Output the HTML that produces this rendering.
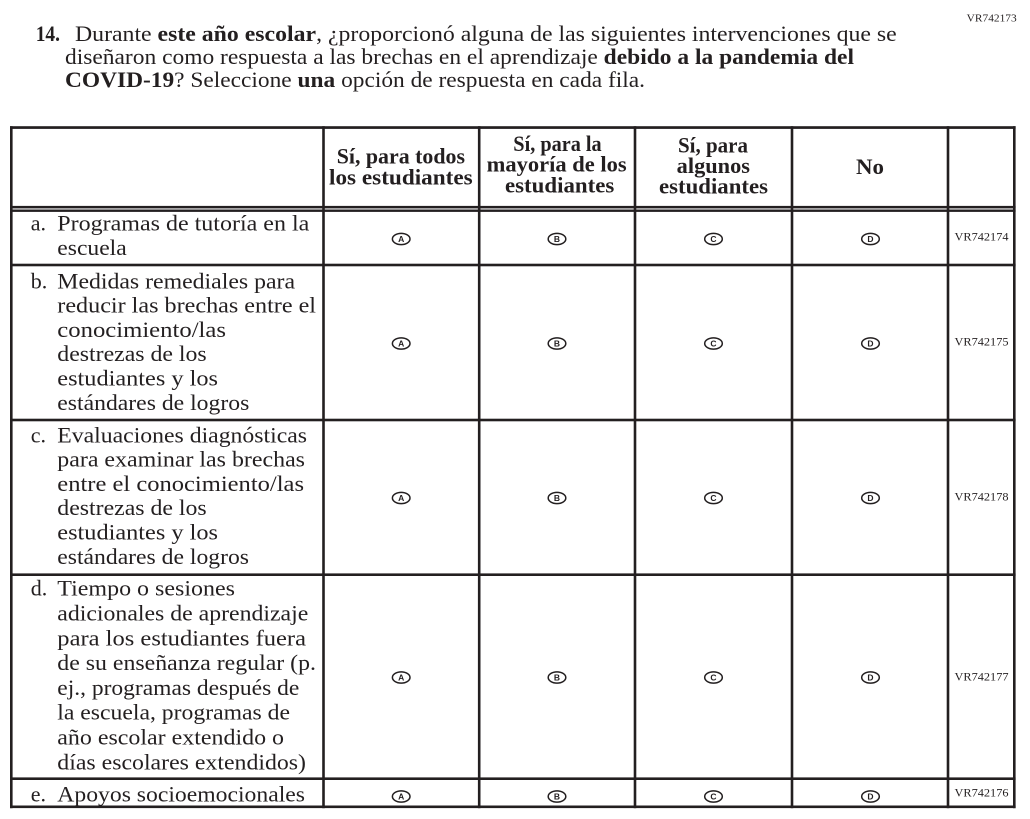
<!DOCTYPE html>
<html>
<head>
<meta charset="utf-8">
<style>
html,body{margin:0;padding:0;background:#fff;}
svg{display:block;}
.t{font-family:"Liberation Serif",serif;font-size:22px;fill:#231f20;}
.b{font-weight:bold;}
.h{font-family:"Liberation Serif",serif;font-size:22px;font-weight:bold;fill:#231f20;}
.vr{font-family:"Liberation Serif",serif;font-size:11.5px;fill:#231f20;}
.c{font-family:"Liberation Sans",sans-serif;font-size:8.5px;font-weight:bold;fill:#231f20;text-anchor:middle;}
</style>
</head>
<body>
<svg width="1030" height="819" viewBox="0 0 1030 819" xmlns="http://www.w3.org/2000/svg">
<rect x="0" y="0" width="1030" height="819" fill="#fff"/>

<text class="vr" style="font-size:10.5px" x="966.7" y="21.7" textLength="50" lengthAdjust="spacingAndGlyphs">VR742173</text>

<text class="t b" x="35.7" y="41" textLength="24.3" lengthAdjust="spacingAndGlyphs">14.</text>
<text class="t" x="75" y="41" textLength="821.7" lengthAdjust="spacingAndGlyphs">Durante <tspan class="b">este año escolar</tspan>, ¿proporcionó alguna de las siguientes intervenciones que se</text>
<text class="t" x="65" y="64" textLength="789" lengthAdjust="spacingAndGlyphs">diseñaron como respuesta a las brechas en el aprendizaje <tspan class="b">debido a la pandemia del</tspan></text>
<text class="t" x="65" y="87" textLength="580" lengthAdjust="spacingAndGlyphs"><tspan class="b">COVID-19</tspan>? Seleccione <tspan class="b">una</tspan> opción de respuesta en cada fila.</text>

<g fill="#231f20">
<rect x="10" y="126.2" width="2.6" height="682"/>
<rect x="322.2" y="126.2" width="2.6" height="682"/>
<rect x="477.9" y="126.2" width="2.6" height="682"/>
<rect x="633.7" y="126.2" width="2.6" height="682"/>
<rect x="790.7" y="126.2" width="2.6" height="682"/>
<rect x="946.7" y="126.2" width="2.6" height="682"/>
<rect x="1013" y="126.2" width="2.6" height="682"/>

<rect x="10" y="126.2" width="1005.6" height="2.7"/>
<rect x="10" y="205.9" width="1005.6" height="2.5"/>
<rect x="10" y="209.5" width="1005.6" height="2.4"/>
<rect x="10" y="263.7" width="1005.6" height="2.6"/>
<rect x="10" y="418.7" width="1005.6" height="2.6"/>
<rect x="10" y="573.4" width="1005.6" height="2.6"/>
<rect x="10" y="777.4" width="1005.6" height="2.6"/>
<rect x="10" y="805.5" width="1005.6" height="2.6"/>
</g>

<text class="h" x="336.7" y="163.3" textLength="128.3" lengthAdjust="spacingAndGlyphs">Sí, para todos</text>
<text class="h" x="329" y="184.3" textLength="143.7" lengthAdjust="spacingAndGlyphs">los estudiantes</text>

<text class="h" x="513.3" y="151" textLength="88.4" lengthAdjust="spacingAndGlyphs">Sí, para la</text>
<text class="h" x="486.7" y="171.7" textLength="140" lengthAdjust="spacingAndGlyphs">mayoría de los</text>
<text class="h" x="505" y="192.7" textLength="109.3" lengthAdjust="spacingAndGlyphs">estudiantes</text>

<text class="h" x="678" y="152.5" textLength="70" lengthAdjust="spacingAndGlyphs">Sí, para</text>
<text class="h" x="676.7" y="173" textLength="73.3" lengthAdjust="spacingAndGlyphs">algunos</text>
<text class="h" x="659" y="193.5" textLength="109" lengthAdjust="spacingAndGlyphs">estudiantes</text>

<text class="h" x="856" y="174" textLength="28" lengthAdjust="spacingAndGlyphs">No</text>

<text class="t" x="30.7" y="230.7">a.</text>
<text class="t" x="57.3" y="230.7" textLength="252" lengthAdjust="spacingAndGlyphs">Programas de tutoría en la</text>
<text class="t" x="57.3" y="255" textLength="69.4" lengthAdjust="spacingAndGlyphs">escuela</text>

<text class="t" x="30.7" y="288.3">b.</text>
<text class="t" x="57.3" y="288.3" textLength="237.7" lengthAdjust="spacingAndGlyphs">Medidas remediales para</text>
<text class="t" x="57.3" y="312.6" textLength="258.7" lengthAdjust="spacingAndGlyphs">reducir las brechas entre el</text>
<text class="t" x="57.3" y="336.9" textLength="168.7" lengthAdjust="spacingAndGlyphs">conocimiento/las</text>
<text class="t" x="57.3" y="361.2" textLength="149.4" lengthAdjust="spacingAndGlyphs">destrezas de los</text>
<text class="t" x="57.3" y="385.5" textLength="160.7" lengthAdjust="spacingAndGlyphs">estudiantes y los</text>
<text class="t" x="57.3" y="409.8" textLength="192" lengthAdjust="spacingAndGlyphs">estándares de logros</text>

<text class="t" x="30.7" y="442.3">c.</text>
<text class="t" x="57.3" y="442.3" textLength="249.7" lengthAdjust="spacingAndGlyphs">Evaluaciones diagnósticas</text>
<text class="t" x="57.3" y="466.6" textLength="247.7" lengthAdjust="spacingAndGlyphs">para examinar las brechas</text>
<text class="t" x="57.3" y="490.9" textLength="246.7" lengthAdjust="spacingAndGlyphs">entre el conocimiento/las</text>
<text class="t" x="57.3" y="515.2" textLength="149.4" lengthAdjust="spacingAndGlyphs">destrezas de los</text>
<text class="t" x="57.3" y="539.5" textLength="160.7" lengthAdjust="spacingAndGlyphs">estudiantes y los</text>
<text class="t" x="57.3" y="563.8" textLength="191.7" lengthAdjust="spacingAndGlyphs">estándares de logros</text>

<text class="t" x="30.7" y="595.7">d.</text>
<text class="t" x="57.3" y="595.7" textLength="177.7" lengthAdjust="spacingAndGlyphs">Tiempo o sesiones</text>
<text class="t" x="57.3" y="620.5" textLength="251" lengthAdjust="spacingAndGlyphs">adicionales de aprendizaje</text>
<text class="t" x="57.3" y="645.3" textLength="248.7" lengthAdjust="spacingAndGlyphs">para los estudiantes fuera</text>
<text class="t" x="57.3" y="670.1" textLength="258.7" lengthAdjust="spacingAndGlyphs">de su enseñanza regular (p.</text>
<text class="t" x="57.3" y="694.9" textLength="242" lengthAdjust="spacingAndGlyphs">ej., programas después de</text>
<text class="t" x="57.3" y="719.7" textLength="232.7" lengthAdjust="spacingAndGlyphs">la escuela, programas de</text>
<text class="t" x="57.3" y="744.5" textLength="226.7" lengthAdjust="spacingAndGlyphs">año escolar extendido o</text>
<text class="t" x="57.3" y="769.3" textLength="248.7" lengthAdjust="spacingAndGlyphs">días escolares extendidos)</text>

<text class="t" x="30.7" y="801.7">e.</text>
<text class="t" x="57.3" y="801.7" textLength="247.7" lengthAdjust="spacingAndGlyphs">Apoyos socioemocionales</text>

<text class="vr" x="954.5" y="240.7" textLength="54" lengthAdjust="spacingAndGlyphs">VR742174</text>
<text class="vr" x="954.5" y="345.5" textLength="54" lengthAdjust="spacingAndGlyphs">VR742175</text>
<text class="vr" x="954.5" y="500.5" textLength="54" lengthAdjust="spacingAndGlyphs">VR742178</text>
<text class="vr" x="954.5" y="680.5" textLength="54" lengthAdjust="spacingAndGlyphs">VR742177</text>
<text class="vr" x="954.5" y="796.7" textLength="54" lengthAdjust="spacingAndGlyphs">VR742176</text>

<g fill="none" stroke="#231f20" stroke-width="1.5">
<ellipse cx="401.2" cy="239" rx="8.8" ry="5.6"/>
<ellipse cx="557" cy="239" rx="8.8" ry="5.6"/>
<ellipse cx="713.5" cy="239" rx="8.8" ry="5.6"/>
<ellipse cx="870.5" cy="239" rx="8.8" ry="5.6"/>

<ellipse cx="401.2" cy="343.5" rx="8.8" ry="5.6"/>
<ellipse cx="557" cy="343.5" rx="8.8" ry="5.6"/>
<ellipse cx="713.5" cy="343.5" rx="8.8" ry="5.6"/>
<ellipse cx="870.5" cy="343.5" rx="8.8" ry="5.6"/>

<ellipse cx="401.2" cy="498" rx="8.8" ry="5.6"/>
<ellipse cx="557" cy="498" rx="8.8" ry="5.6"/>
<ellipse cx="713.5" cy="498" rx="8.8" ry="5.6"/>
<ellipse cx="870.5" cy="498" rx="8.8" ry="5.6"/>

<ellipse cx="401.2" cy="677.5" rx="8.8" ry="5.6"/>
<ellipse cx="557" cy="677.5" rx="8.8" ry="5.6"/>
<ellipse cx="713.5" cy="677.5" rx="8.8" ry="5.6"/>
<ellipse cx="870.5" cy="677.5" rx="8.8" ry="5.6"/>

<ellipse cx="401.2" cy="796.5" rx="8.8" ry="5.6"/>
<ellipse cx="557" cy="796.5" rx="8.8" ry="5.6"/>
<ellipse cx="713.5" cy="796.5" rx="8.8" ry="5.6"/>
<ellipse cx="870.5" cy="796.5" rx="8.8" ry="5.6"/>
</g>
<g>
<text class="c" x="401.2" y="242">A</text>
<text class="c" x="557" y="242">B</text>
<text class="c" x="713.5" y="242">C</text>
<text class="c" x="870.5" y="242">D</text>

<text class="c" x="401.2" y="346.5">A</text>
<text class="c" x="557" y="346.5">B</text>
<text class="c" x="713.5" y="346.5">C</text>
<text class="c" x="870.5" y="346.5">D</text>

<text class="c" x="401.2" y="501">A</text>
<text class="c" x="557" y="501">B</text>
<text class="c" x="713.5" y="501">C</text>
<text class="c" x="870.5" y="501">D</text>

<text class="c" x="401.2" y="680.5">A</text>
<text class="c" x="557" y="680.5">B</text>
<text class="c" x="713.5" y="680.5">C</text>
<text class="c" x="870.5" y="680.5">D</text>

<text class="c" x="401.2" y="799.5">A</text>
<text class="c" x="557" y="799.5">B</text>
<text class="c" x="713.5" y="799.5">C</text>
<text class="c" x="870.5" y="799.5">D</text>
</g>
</svg>
</body>
</html>
